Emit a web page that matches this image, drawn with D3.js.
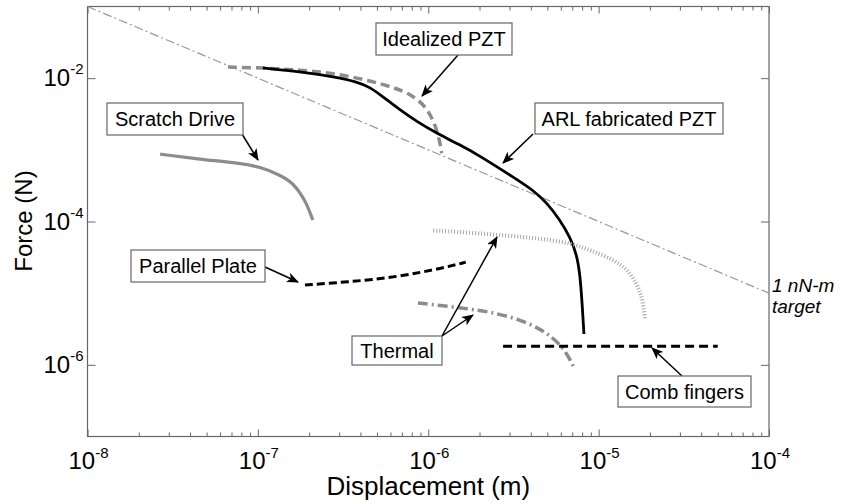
<!DOCTYPE html>
<html>
<head>
<meta charset="utf-8">
<script src="https://cdn.jsdelivr.net/npm/d3@7"></script>
<style>
  body { margin: 0; background: #fff; }
  svg { font-family: Arial, 'Liberation Sans', sans-serif; }
</style>
</head>
<body>
<svg width="841" height="504"></svg>
<script>
// data (displacement in m, force in N)
const arlX = [1.07e-7, 1.77e-7, 2.76e-7, 3.82e-7, 4.55e-7, 5.42e-7, 6.82e-7, 8.59e-7, 1.12e-6, 1.54e-6, 2.01e-6, 3.14e-6, 4.12e-6, 4.98e-6, 5.93e-6, 6.79e-6, 7.46e-6, 7.77e-6, 7.98e-6, 8.2e-6];
const arlF = [1.39e-2, 1.23e-2, 1.05e-2, 8.9e-3, 7.5e-3, 5.5e-3, 3.6e-3, 2.47e-3, 1.7e-3, 1.17e-3, 8.2e-4, 4.18e-4, 2.75e-4, 1.81e-4, 1.05e-4, 6.08e-5, 3.41e-5, 1.8e-5, 8.0e-6, 2.69e-6];

const idealX = [6.68e-8, 1.07e-7, 1.77e-7, 2.76e-7, 4.37e-7, 6.21e-7, 8.13e-7, 9.84e-7, 1.1e-6, 1.17e-6, 1.2e-6];
const idealF = [1.43e-2, 1.39e-2, 1.3e-2, 1.18e-2, 9.4e-3, 7.5e-3, 5.8e-3, 3.84e-3, 2.22e-3, 1.29e-3, 9.0e-4];

const scratchX = [2.67e-8, 4.57e-8, 7.85e-8, 1.03e-7, 1.35e-7, 1.61e-7, 1.84e-7, 1.97e-7, 2.1e-7];
const scratchF = [8.7e-4, 7.4e-4, 6.5e-4, 5.8e-4, 4.46e-4, 3.44e-4, 2.2e-4, 1.59e-4, 1.05e-4];

const thermal1X = [1.07e-6, 2.01e-6, 3.95e-6, 6.79e-6, 8.9e-6, 1.39e-5, 1.68e-5, 1.82e-5, 1.87e-5];
const thermal1F = [7.5e-5, 6.85e-5, 6.0e-5, 5.1e-5, 3.97e-5, 2.62e-5, 1.38e-5, 8.0e-6, 4.2e-6];

const thermal2X = [8.7e-7, 1.6e-6, 2.53e-6, 3.95e-6, 5.4e-6, 6.52e-6, 7.16e-6];
const thermal2F = [7.3e-6, 6.2e-6, 5.3e-6, 3.84e-6, 2.45e-6, 1.47e-6, 9.1e-7];

const plateX = [1.89e-7, 3.33e-7, 6.55e-7, 1.29e-6, 1.66e-6];
const plateF = [1.3e-5, 1.43e-5, 1.67e-5, 2.31e-5, 2.71e-5];

const combX = [2.75e-6, 5.0e-5];
const combF = [1.81e-6, 1.81e-6];

// 1 nN-m target: F = 1e-9 / d
const targetX = [1e-8, 1e-4];
const targetF = [1e-1, 1e-5];

const xMajor = [-8, -7, -6, -5, -4];
const yMajor = [-6, -4, -2];

const margin = { top: 6.5, left: 87.5 };
const width = 681.5, height = 430;

const svg = d3.select('svg');

svg.append('defs').append('marker')
  .attr('id', 'arrow')
  .attr('viewBox', '0 0 12 10')
  .attr('refX', 11).attr('refY', 5)
  .attr('markerWidth', 12).attr('markerHeight', 10)
  .attr('markerUnits', 'userSpaceOnUse')
  .attr('orient', 'auto')
  .append('path')
  .attr('d', 'M0,0 L12,5 L0,10 L3,5 Z')
  .attr('fill', '#000');

const g = svg.append('g').attr('transform', `translate(${margin.left},${margin.top})`);

const x = d3.scaleLog().domain([1e-8, 1e-4]).range([0, width]);
const y = d3.scaleLog().domain([1e-7, 1e-1]).range([height, 0]);

const xMinor = [];
for (let e = -8; e < -4; e++) for (let m = 2; m <= 9; m++) xMinor.push(m * Math.pow(10, e));
const xMajorV = xMajor.map((e) => Math.pow(10, e));
const yMajorV = yMajor.map((e) => Math.pow(10, e));

// ticks (inward, on all four sides)
function tickAxis(axis, tr) {
  const a = g.append('g').attr('transform', tr).call(axis);
  a.select('.domain').remove();
  a.selectAll('line').attr('stroke', '#666').attr('stroke-width', 1);
  a.selectAll('text').remove();
}
tickAxis(d3.axisBottom(x).tickValues(xMajorV).tickSize(-7).tickFormat(''), `translate(0,${height})`);
tickAxis(d3.axisBottom(x).tickValues(xMinor).tickSize(-4).tickFormat(''), `translate(0,${height})`);
tickAxis(d3.axisTop(x).tickValues(xMajorV).tickSize(-7).tickFormat(''), 'translate(0,0)');
tickAxis(d3.axisTop(x).tickValues(xMinor).tickSize(-4).tickFormat(''), 'translate(0,0)');
tickAxis(d3.axisLeft(y).tickValues(yMajorV).tickSize(-8).tickFormat(''), 'translate(0,0)');
tickAxis(d3.axisRight(y).tickValues(yMajorV).tickSize(-8).tickFormat(''), `translate(${width},0)`);

g.append('rect')
  .attr('width', width).attr('height', height)
  .attr('fill', 'none').attr('stroke', '#666').attr('stroke-width', 1.2);

// tick labels with superscripts
xMajor.forEach((e) => {
  const t = g.append('text')
    .attr('x', x(Math.pow(10, e)) + 1)
    .attr('y', height + 32)
    .attr('text-anchor', 'middle')
    .attr('font-size', 24);
  t.append('tspan').text('10');
  t.append('tspan').attr('dy', -11).attr('font-size', 15).text(e);
});
yMajor.forEach((e) => {
  const t = g.append('text')
    .attr('x', -4)
    .attr('y', y(Math.pow(10, e)) + 8)
    .attr('text-anchor', 'end')
    .attr('font-size', 24);
  t.append('tspan').text('10');
  t.append('tspan').attr('dy', -12).attr('font-size', 15).text(e);
});

// axis titles
svg.append('text')
  .attr('x', margin.left + width / 2).attr('y', 495)
  .attr('text-anchor', 'middle').attr('font-size', 26)
  .text('Displacement (m)');
svg.append('text')
  .attr('transform', 'translate(32,221) rotate(-90)')
  .attr('text-anchor', 'middle').attr('font-size', 24)
  .text('Force (N)');

// curves
const line = d3.line()
  .x((d) => x(d[0]))
  .y((d) => y(d[1]))
  .curve(d3.curveBasis);

const series = [
  { xs: targetX, fs: targetF, stroke: '#999', w: 1.2, dash: '9,3,2,3' },
  { xs: idealX, fs: idealF, stroke: '#8c8c8c', w: 3.5, dash: '9,5' },
  { xs: arlX, fs: arlF, stroke: '#000', w: 2.8, dash: null },
  { xs: scratchX, fs: scratchF, stroke: '#8c8c8c', w: 3.2, dash: null },
  { xs: thermal1X, fs: thermal1F, stroke: '#a6a6a6', w: 4, dash: '1,2' },
  { xs: thermal2X, fs: thermal2F, stroke: '#8c8c8c', w: 3.5, dash: '10,4,2,4' },
  { xs: plateX, fs: plateF, stroke: '#000', w: 3, dash: '8,4' },
  { xs: combX, fs: combF, stroke: '#000', w: 3, dash: '9,5' }
];

g.selectAll('.curve')
  .data(series)
  .join('path')
  .attr('class', 'curve')
  .attr('d', (s) => line(s.xs.map((v, i) => [v, s.fs[i]])))
  .attr('fill', 'none')
  .attr('stroke', (s) => s.stroke)
  .attr('stroke-width', (s) => s.w)
  .attr('stroke-dasharray', (s) => s.dash);

// annotation boxes + arrows (page pixels)
const notes = [
  { text: 'Idealized PZT', box: [376, 23, 136, 32], arrows: [[458, 55, 422, 96]] },
  { text: 'ARL fabricated PZT', box: [535, 103, 188, 31], arrows: [[533, 134, 503, 163]] },
  { text: 'Scratch Drive', box: [107, 103, 136, 32], arrows: [[242, 134, 258, 160]] },
  { text: 'Parallel Plate', box: [131, 250, 134, 32], arrows: [[265, 267, 298, 282]] },
  { text: 'Thermal', box: [352, 336, 90, 29], arrows: [[442, 336, 497, 237], [442, 336, 473, 315]] },
  { text: 'Comb fingers', box: [618, 376, 133, 31], arrows: [[682, 376, 652, 348]] }
];

notes.forEach((n) => {
  n.arrows.forEach((a) => {
    svg.append('line')
      .attr('x1', a[0]).attr('y1', a[1]).attr('x2', a[2]).attr('y2', a[3])
      .attr('stroke', '#000').attr('stroke-width', 1.5)
      .attr('marker-end', 'url(#arrow)');
  });
  svg.append('rect')
    .attr('x', n.box[0]).attr('y', n.box[1])
    .attr('width', n.box[2]).attr('height', n.box[3])
    .attr('fill', '#fff').attr('stroke', '#666').attr('stroke-width', 1.2);
  svg.append('text')
    .attr('x', n.box[0] + n.box[2] / 2)
    .attr('y', n.box[1] + n.box[3] / 2 + 7)
    .attr('text-anchor', 'middle').attr('font-size', 20)
    .text(n.text);
});

// target label
const tl = svg.append('text')
  .attr('x', 772).attr('y', 292)
  .attr('font-size', 19).attr('font-style', 'italic');
tl.append('tspan').attr('x', 772).text('1 nN-m');
tl.append('tspan').attr('x', 772).attr('dy', 21).text('target');
</script>
</body>
</html>
